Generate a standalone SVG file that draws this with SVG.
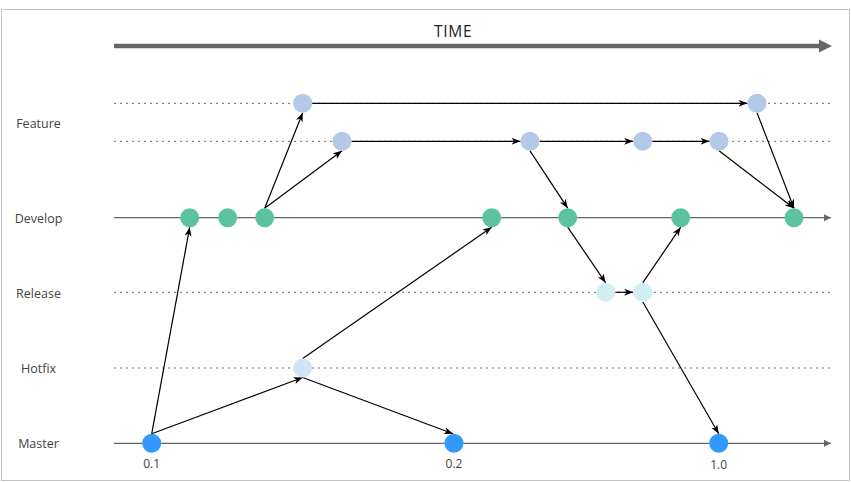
<svg xmlns="http://www.w3.org/2000/svg" width="851" height="482" viewBox="0 0 851 482">
<style>
.lbl{font-family:"Open Sans","Liberation Sans",sans-serif;font-size:12.5px;fill:#444;text-anchor:middle;dominant-baseline:central}
.ver{font-family:"Open Sans","Liberation Sans",sans-serif;font-size:12px;fill:#444;text-anchor:middle;dominant-baseline:central}
.dot{stroke:#666;stroke-width:1;stroke-dasharray:2 4;fill:none}
.axis{stroke:#666;stroke-width:1.2;fill:none}
.edge{stroke:#000;stroke-width:1.2;fill:none;marker-end:url(#ah)}
.dev{fill:#5bc49f}
.feat{fill:#b4c8e7}
.rel{fill:#d0eef4}
.hot{fill:#cfe4f7}
.mas{fill:#3399ff}
</style>
<defs>
<marker id="ah" markerUnits="userSpaceOnUse" markerWidth="10" markerHeight="8" refX="9" refY="3.5" orient="auto">
<path d="M0,0 L9,3.5 L0,7 L2.5,3.5 Z" fill="#000"/>
</marker>
<marker id="ga" markerUnits="userSpaceOnUse" markerWidth="9" markerHeight="8" refX="7.5" refY="3.75" orient="auto">
<path d="M0,0 L7.5,3.75 L0,7.5 Z" fill="#666"/>
</marker>
</defs>
<rect x="1.5" y="9.5" width="848" height="471" fill="#fff" stroke="#c4c4c4" stroke-width="1"/>
<g id="time">
<line x1="114" y1="46" x2="820" y2="46" stroke="#666" stroke-width="4.3"/>
<polygon points="819,39.5 832,46 819,52.5" fill="#666"/>
<text x="434" y="37.3" font-family="'Open Sans','Liberation Sans',sans-serif" font-size="15.5" fill="#222" letter-spacing="0.7">TIME</text>
</g>
<g id="lanes">
<line class="dot" x1="114" y1="103.3" x2="830" y2="103.3"/>
<line class="dot" x1="114" y1="141.3" x2="830" y2="141.3"/>
<line class="axis" x1="114" y1="217.7" x2="831" y2="217.7" marker-end="url(#ga)"/>
<line class="dot" x1="114" y1="292.3" x2="830" y2="292.3"/>
<line class="dot" x1="114" y1="368" x2="830" y2="368"/>
<line class="axis" x1="114" y1="443.3" x2="831" y2="443.3" marker-end="url(#ga)"/>
</g>
<g id="labels">
<text class="lbl" x="38.5" y="123.5">Feature</text>
<text class="lbl" x="38.5" y="218">Develop</text>
<text class="lbl" x="38.5" y="293">Release</text>
<text class="lbl" x="38.5" y="368">Hotfix</text>
<text class="lbl" x="38.5" y="443.5">Master</text>
<text class="ver" x="151.7" y="463">0.1</text>
<text class="ver" x="454" y="463">0.2</text>
<text class="ver" x="718.7" y="464">1.0</text>
</g>
<g id="connectors">
<line class="edge" x1="151.7" y1="433.8" x2="189.7" y2="227.2"/>
<line class="edge" x1="151.7" y1="433.8" x2="302.7" y2="377.5"/>
<line class="edge" x1="302.7" y1="358.5" x2="491.7" y2="227.2"/>
<line class="edge" x1="302.7" y1="377.5" x2="453" y2="433.8"/>
<line class="edge" x1="264.7" y1="208.2" x2="302.7" y2="112.8"/>
<line class="edge" x1="264.7" y1="208.2" x2="342" y2="150.8"/>
<line class="edge" x1="312.2" y1="103.3" x2="747.5" y2="103.3"/>
<line class="edge" x1="351.5" y1="141.3" x2="520.5" y2="141.3"/>
<line class="edge" x1="539.5" y1="141.3" x2="633.2" y2="141.3"/>
<line class="edge" x1="652.2" y1="141.3" x2="709.5" y2="141.3"/>
<line class="edge" x1="530" y1="150.8" x2="567.7" y2="208.2"/>
<line class="edge" x1="757" y1="112.8" x2="794" y2="208.2"/>
<line class="edge" x1="719" y1="150.8" x2="794" y2="208.2"/>
<line class="edge" x1="567.7" y1="227.2" x2="605.7" y2="282.8"/>
<line class="edge" x1="615.2" y1="292.3" x2="633.2" y2="292.3"/>
<line class="edge" x1="642.7" y1="282.8" x2="680.7" y2="227.2"/>
<line class="edge" x1="642.7" y1="301.8" x2="718.7" y2="433.8"/>
</g>
<g id="develop">
<circle class="dev" cx="189.7" cy="217.7" r="9.5"/>
<circle class="dev" cx="227.7" cy="217.7" r="9.5"/>
<circle class="dev" cx="264.7" cy="217.7" r="9.5"/>
<circle class="dev" cx="491.7" cy="217.7" r="9.5"/>
<circle class="dev" cx="567.7" cy="217.7" r="9.5"/>
<circle class="dev" cx="680.7" cy="217.7" r="9.5"/>
<circle class="dev" cx="794" cy="217.7" r="9.5"/>
</g>
<g id="feature">
<circle class="feat" cx="302.7" cy="103.3" r="9.5"/>
<circle class="feat" cx="757" cy="103.3" r="9.5"/>
<circle class="feat" cx="342" cy="141.3" r="9.5"/>
<circle class="feat" cx="530" cy="141.3" r="9.5"/>
<circle class="feat" cx="642.7" cy="141.3" r="9.5"/>
<circle class="feat" cx="719" cy="141.3" r="9.5"/>
</g>
<g id="release">
<circle class="rel" cx="605.7" cy="292.3" r="9.5"/>
<circle class="rel" cx="642.7" cy="292.3" r="9.5"/>
</g>
<g id="hotfix">
<circle class="hot" cx="302.7" cy="368" r="9.5"/>
</g>
<g id="master">
<circle class="mas" cx="151.7" cy="443.3" r="9.5"/>
<circle class="mas" cx="454" cy="443.3" r="9.5"/>
<circle class="mas" cx="718.7" cy="443.3" r="9.5"/>
</g>
</svg>
